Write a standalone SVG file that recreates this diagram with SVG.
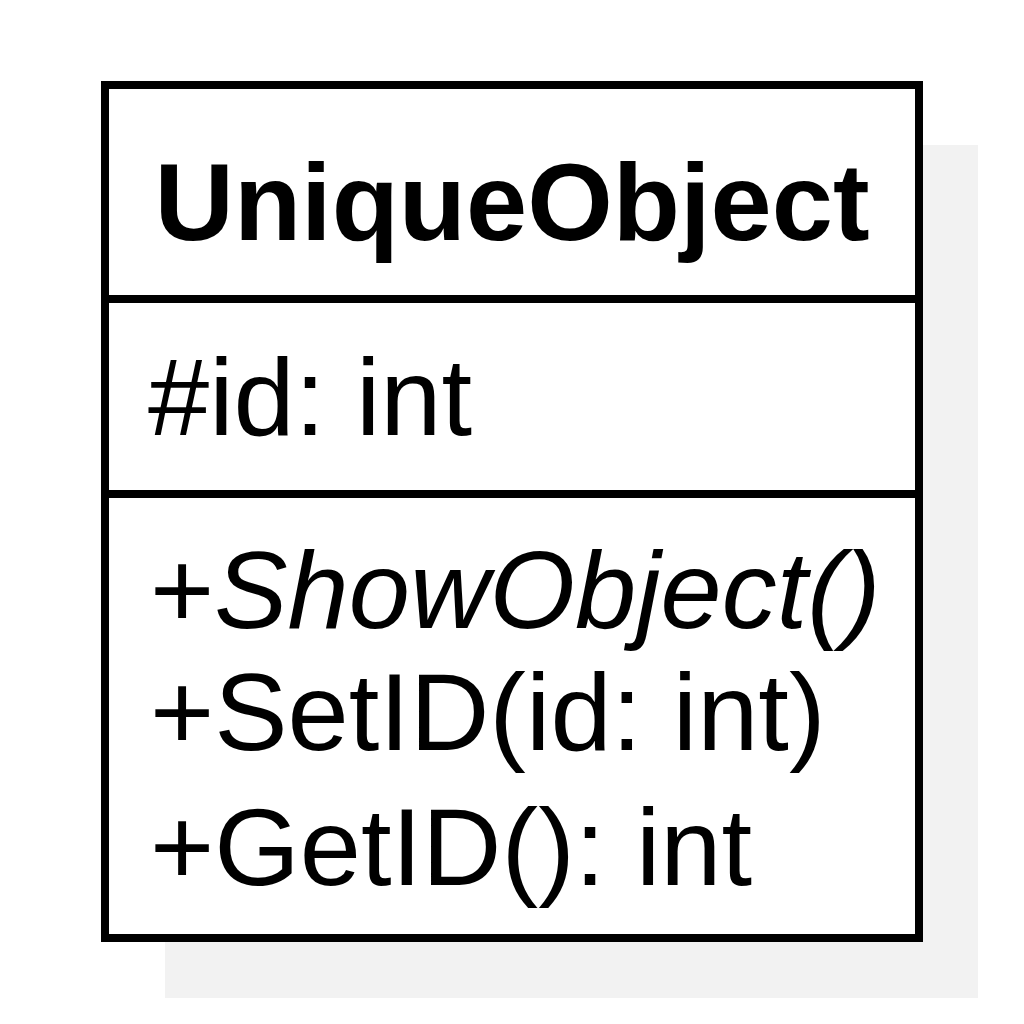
<svg xmlns="http://www.w3.org/2000/svg" width="1024" height="1024" viewBox="0 0 1024 1024">
<style>
.t{font-family:"Liberation Sans",Arial,sans-serif;font-size:110px;fill:#000}
.b{font-weight:bold}
.i{font-style:italic}
.ln{stroke:#000;stroke-width:8}
.box{fill:#fff}
.shadow{fill:#f2f2f2}
</style>
<rect width="1024" height="1024" fill="#fff"/>
<g id="UniqueObject">
<rect x="165" y="145" width="813" height="853" class="shadow"/>
<rect x="105" y="85" width="814" height="853" class="box ln"/>
<line x1="105" y1="299" x2="919" y2="299" class="ln"/>
<line x1="105" y1="494" x2="919" y2="494" class="ln"/>
<text x="512" y="240" class="t b" text-anchor="middle">UniqueObject</text>
<text x="148" y="435" class="t">#id: int</text>
<text x="150" y="628" class="t"><tspan>+</tspan><tspan class="i">ShowObject()</tspan></text>
<text x="150" y="750" class="t">+SetID(id: int)</text>
<text x="150" y="885" class="t">+GetID(): int</text>
</g>
</svg>
